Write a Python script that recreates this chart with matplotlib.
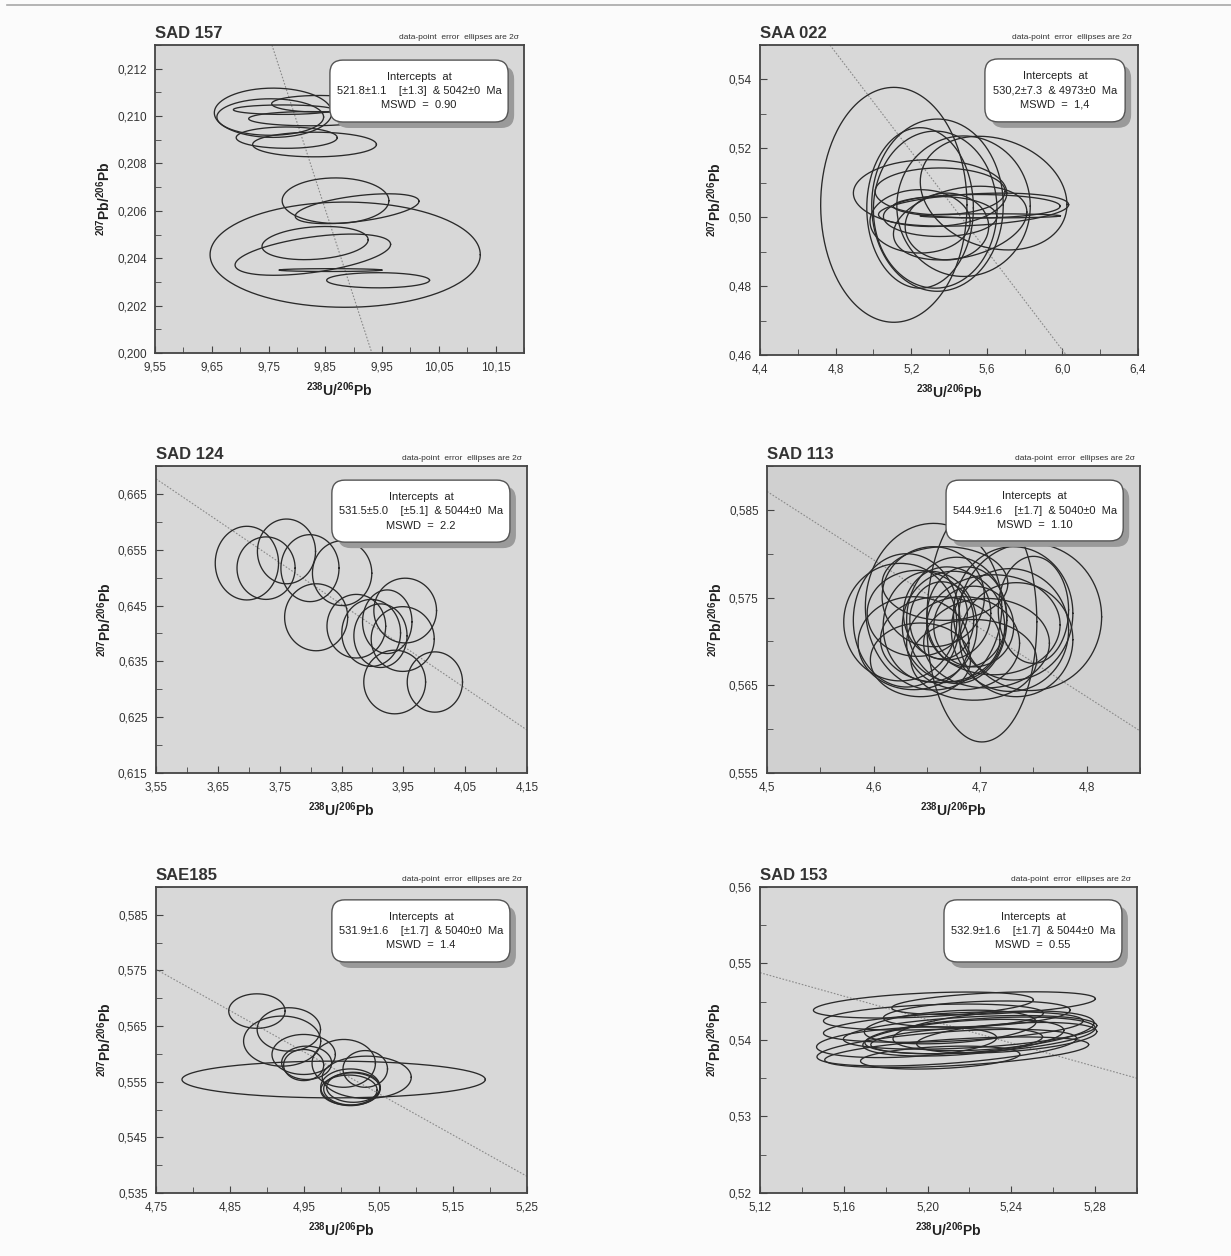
import numpy as np
import matplotlib.pyplot as plt
from matplotlib.patches import FancyBboxPatch
from matplotlib.lines import Line2D
from matplotlib.ticker import FuncFormatter

plt.rcParams['font.family'] = ['Liberation Sans', 'DejaVu Sans']
plt.rcParams['mathtext.fontset'] = 'custom'
plt.rcParams['mathtext.rm'] = 'Liberation Sans'
plt.rcParams['mathtext.bf'] = 'Liberation Sans:bold'

# ellipses: (centro x, centro y, semi-eje x, semi-eje y, rho)
sad157 = [
    (9.758, 0.21014, 0.1035, 0.00104, 0.0),
    (9.839, 0.21052, 0.0835, 0.00035, 0.0),
    (9.776, 0.21027, 0.088, 0.00020, 0.0),
    (9.822, 0.20989, 0.107, 0.00030, 0.0),
    (9.753, 0.20996, 0.094, 0.00077, 0.0),
    (9.782, 0.20909, 0.089, 0.00045, 0.0),
    (9.831, 0.20880, 0.109, 0.00052, 0.0),
    (9.868, 0.20643, 0.094, 0.00096, 0.0),
    (9.906, 0.20609, 0.109, 0.00063, 0.5),
    (9.885, 0.20415, 0.238, 0.00222, 0.0),
    (9.832, 0.20464, 0.0935, 0.00070, 0.2),
    (9.828, 0.20415, 0.137, 0.00087, 0.5),
    (9.859, 0.20350, 0.0906, 0.00006, 0.0),
    (9.943, 0.20307, 0.0906, 0.00032, 0.0),
]
saa022 = [
    (5.108, 0.5036, 0.387, 0.0341, 0.0),
    (5.339, 0.5035, 0.348, 0.0250, 0.0),
    (5.327, 0.5022, 0.327, 0.0228, 0.0),
    (5.247, 0.5027, 0.282, 0.0233, 0.0),
    (5.477, 0.5032, 0.353, 0.0204, 0.0),
    (5.636, 0.5070, 0.388, 0.0165, -0.2),
    (5.300, 0.5070, 0.406, 0.0097, 0.0),
    (5.353, 0.5075, 0.344, 0.0068, 0.0),
    (5.530, 0.5022, 0.503, 0.0048, 0.3),
    (5.547, 0.5032, 0.441, 0.0034, 0.0),
    (5.618, 0.5004, 0.371, 0.0006, 0.0),
    (5.353, 0.5002, 0.300, 0.0058, 0.0),
    (5.389, 0.4973, 0.221, 0.0097, 0.0),
    (5.459, 0.4983, 0.353, 0.0107, 0.3),
    (5.247, 0.4988, 0.265, 0.0092, 0.0),
]
sad124 = [
    (3.697, 0.6526, 0.0512, 0.0066, 0.0),
    (3.728, 0.6517, 0.0470, 0.0056, 0.0),
    (3.761, 0.6547, 0.0470, 0.0058, 0.0),
    (3.799, 0.6517, 0.0470, 0.0060, 0.0),
    (3.851, 0.6508, 0.0480, 0.0058, 0.0),
    (3.809, 0.6429, 0.0510, 0.0060, 0.0),
    (3.874, 0.6413, 0.0475, 0.0057, 0.0),
    (3.898, 0.6401, 0.0475, 0.0060, 0.0),
    (3.924, 0.6421, 0.0400, 0.0057, 0.0),
    (3.913, 0.6396, 0.0430, 0.0057, 0.0),
    (3.953, 0.6441, 0.0507, 0.0058, 0.0),
    (3.949, 0.6390, 0.0510, 0.0058, 0.0),
    (3.936, 0.6313, 0.0500, 0.0057, 0.0),
    (4.001, 0.6313, 0.0447, 0.0054, 0.0),
]
sad113 = [
    (4.7016, 0.57224, 0.0516, 0.0137, 0.0),
    (4.6563, 0.57396, 0.0640, 0.0095, 0.0),
    (4.625, 0.5722, 0.053, 0.0067, 0.0),
    (4.631, 0.5724, 0.050, 0.0076, 0.0),
    (4.641, 0.5732, 0.047, 0.0049, 0.0),
    (4.656, 0.5751, 0.048, 0.0057, 0.0),
    (4.667, 0.5766, 0.059, 0.0042, 0.0),
    (4.747, 0.5728, 0.067, 0.0084, 0.0),
    (4.731, 0.5732, 0.056, 0.0076, 0.0),
    (4.728, 0.5713, 0.055, 0.0070, 0.0),
    (4.7125, 0.5719, 0.0625, 0.0057, 0.0),
    (4.675, 0.5717, 0.048, 0.0063, 0.0),
    (4.6625, 0.5702, 0.056, 0.0049, 0.0),
    (4.6375, 0.5698, 0.052, 0.0053, 0.0),
    (4.684, 0.5698, 0.053, 0.0053, 0.0),
    (4.669, 0.5732, 0.041, 0.0053, 0.0),
    (4.6875, 0.5728, 0.0375, 0.0057, 0.0),
    (4.678, 0.5724, 0.047, 0.0072, 0.0),
    (4.653, 0.5717, 0.044, 0.0063, 0.0),
    (4.706, 0.5698, 0.059, 0.0051, 0.0),
    (4.644, 0.5679, 0.047, 0.0042, 0.0),
    (4.694, 0.5679, 0.059, 0.0046, 0.0),
    (4.734, 0.5702, 0.053, 0.0065, 0.0),
    (4.750, 0.5736, 0.033, 0.0061, 0.0),
    (4.664, 0.5724, 0.030, 0.0044, 0.0),
    (4.694, 0.5717, 0.0375, 0.0046, 0.0),
]
sae185 = [
    (4.886, 0.5677, 0.0380, 0.0031, 0.0),
    (4.929, 0.5644, 0.0427, 0.0039, 0.0),
    (4.920, 0.5623, 0.0520, 0.0045, 0.0),
    (4.949, 0.5599, 0.0427, 0.0036, 0.0),
    (4.949, 0.5580, 0.0270, 0.0028, 0.0),
    (4.953, 0.5584, 0.0337, 0.0030, 0.0),
    (5.003, 0.5583, 0.0427, 0.0043, 0.0),
    (4.9894, 0.5554, 0.2044, 0.0033, 0.0),
    (5.032, 0.5573, 0.0300, 0.0033, 0.0),
    (5.034, 0.5558, 0.0600, 0.0038, 0.0),
    (5.012, 0.5540, 0.0400, 0.0033, 0.0),
    (5.014, 0.5537, 0.0380, 0.0029, 0.0),
    (5.010, 0.5535, 0.0380, 0.0027, 0.0),
    (5.016, 0.5540, 0.0360, 0.0027, 0.0),
]
sad153 = [
    (5.198, 0.54457, 0.0525, 0.0017, 0.4),
    (5.2315, 0.5448, 0.0486, 0.0015, 0.4),
    (5.2028, 0.5430, 0.0525, 0.0017, 0.3),
    (5.2123, 0.5417, 0.0620, 0.0020, 0.4),
    (5.2203, 0.5410, 0.0605, 0.0022, 0.4),
    (5.2092, 0.5390, 0.0620, 0.0024, 0.5),
    (5.2139, 0.5384, 0.0630, 0.0020, 0.5),
    (5.2251, 0.5406, 0.0550, 0.0024, 0.4),
    (5.2108, 0.5417, 0.0410, 0.0022, 0.3),
    (5.2171, 0.5403, 0.0480, 0.0024, 0.4),
    (5.2139, 0.5399, 0.0410, 0.0017, 0.3),
    (5.2315, 0.5412, 0.0480, 0.0026, 0.4),
    (5.2378, 0.5403, 0.0430, 0.0020, 0.4),
    (5.2060, 0.5377, 0.0380, 0.0015, 0.3),
    (5.1900, 0.5397, 0.0430, 0.0020, 0.3),
    (5.2235, 0.5434, 0.0446, 0.0017, 0.3),
]

nombres = ["SAD 157", "SAA 022", "SAD 124", "SAD 113", "SAE185", "SAD 153"]
interceptos = [
    "521.8±1.1    [±1.3]  & 5042±0  Ma",
    "530,2±7.3  & 4973±0  Ma",
    "531.5±5.0    [±5.1]  & 5044±0  Ma",
    "544.9±1.6    [±1.7]  & 5040±0  Ma",
    "531.9±1.6    [±1.7]  & 5040±0  Ma",
    "532.9±1.6    [±1.7]  & 5044±0  Ma",
]
mswd = ["0.90", "1,4", "2.2", "1.10", "1.4", "0.55"]
datos = [sad157, saa022, sad124, sad113, sae185, sad153]

x_lims = [(9.55, 10.20), (4.4, 6.4), (3.55, 4.15), (4.5, 4.85), (4.75, 5.25), (5.12, 5.30)]
y_lims = [(0.200, 0.213), (0.46, 0.55), (0.615, 0.670), (0.555, 0.590), (0.535, 0.590), (0.52, 0.56)]
x_paso = [0.1, 0.4, 0.1, 0.1, 0.1, 0.04]
y_paso = [0.002, 0.02, 0.01, 0.01, 0.01, 0.01]
x_dec = [2, 1, 2, 1, 2, 2]
y_dec = [3, 2, 3, 3, 3, 2]
x_max_tick = [10.15, 6.4, 4.15, 4.8, 5.25, 5.28]
y_max_tick = [0.212, 0.54, 0.665, 0.585, 0.585, 0.56]

# linea de discordia (dos extremos)
discordia = [
    ((9.756, 0.213), (9.932, 0.200)),
    ((4.77, 0.55), (6.02, 0.46)),
    ((3.55, 0.6677), (4.15, 0.6227)),
    ((4.5, 0.5871), (4.85, 0.5598)),
    ((4.75, 0.5752), (5.25, 0.538)),
    ((5.12, 0.5488), (5.30, 0.535)),
]

# posiciones en pixeles: izq, arriba, der, abajo
cajas_px = [(155, 45, 524, 353), (760, 45, 1138, 355),
            (156, 466, 527, 773), (767, 466, 1140, 773),
            (156, 887, 527, 1193), (760, 887, 1137, 1193)]
leyenda_ax = [(0.474, 0.957, 0.75, 0.951), (0.595, 0.966, 0.752, 0.955),
              (0.474, 0.954, 0.752, 0.954), (0.480, 0.955, 0.756, 0.954),
              (0.474, 0.954, 0.755, 0.958), (0.488, 0.960, 0.755, 0.958)]

W, H = 1231, 1256
fig = plt.figure(figsize=(W / 100, H / 100), dpi=100, facecolor='#fbfbfb')
fig.add_artist(Line2D([7 / W, 1], [1 - 5 / H, 1 - 5 / H], color='#a8a8a8', lw=1.2))

t = np.linspace(0, 2 * np.pi, 300)

for i in range(6):
    l, tp, r, b = cajas_px[i]
    ax = fig.add_axes([l / W, 1 - b / H, (r - l) / W, (b - tp) / H])
    ax.set_facecolor('#d0d0d0' if i == 3 else '#d8d8d8')
    for sp in ax.spines.values():
        sp.set_color('#444444')
        sp.set_linewidth(1.3)

    for cx, cy, sx, sy, rho in datos[i]:
        x = cx + sx * np.cos(t)
        y = cy + sy * (rho * np.cos(t) + np.sqrt(1 - rho ** 2) * np.sin(t))
        ax.plot(x, y, color='#2a2a2a', lw=0.95, zorder=3)

    (x0, y0), (x1, y1) = discordia[i]
    ax.plot([x0, x1], [y0, y1], color='#8a8a8a', lw=0.8, ls=(0, (1.5, 1.5)), zorder=2)

    ax.set_xlim(*x_lims[i])
    ax.set_ylim(*y_lims[i])
    xt = np.arange(x_lims[i][0], x_max_tick[i] + 1e-9, x_paso[i])
    yt = np.arange(y_lims[i][0], y_max_tick[i] + 1e-9, y_paso[i])
    ax.set_xticks(xt)
    ax.set_yticks(yt)
    ax.set_xticks(np.arange(x_lims[i][0], x_lims[i][1] + 1e-9, x_paso[i] / 2), minor=True)
    ax.set_yticks(np.arange(y_lims[i][0], y_lims[i][1] + 1e-9, y_paso[i] / 2), minor=True)
    dx, dy = x_dec[i], y_dec[i]
    ax.xaxis.set_major_formatter(FuncFormatter(lambda v, p, d=dx: f"{v:.{d}f}".replace('.', ',')))
    ax.yaxis.set_major_formatter(FuncFormatter(lambda v, p, d=dy: f"{v:.{d}f}".replace('.', ',')))
    ax.tick_params(which='both', direction='in', color='#444444', labelsize=8.5,
                   labelcolor='#333333', pad=6)
    ax.tick_params(which='major', length=5)
    ax.tick_params(which='minor', length=4)

    ax.set_xlabel(r'$\mathbf{{}^{238}U/{}^{206}Pb}$', fontsize=10, color='#222222', labelpad=5)
    ax.set_ylabel(r'$\mathbf{{}^{207}Pb/{}^{206}Pb}$', fontsize=10, color='#222222', labelpad=3)

    ax.text(0.0, 1.012, nombres[i], transform=ax.transAxes, fontsize=12,
            fontweight='bold', color='#333333', ha='left', va='bottom')
    ax.text(0.985, 1.012, "data-point  error  ellipses are 2σ", transform=ax.transAxes,
            fontsize=6, color='#333333', ha='right', va='bottom')

    # caja de interceptos con sombra
    bx0, bx1, by0, by1 = leyenda_ax[i]
    asp = (r - l) / (b - tp)
    ox, oy = 6 / (r - l), 6 / (b - tp)
    sombra = FancyBboxPatch((bx0 + ox, by0 - oy), bx1 - bx0, by1 - by0,
                            boxstyle="round,pad=0,rounding_size=0.035",
                            mutation_aspect=asp, transform=ax.transAxes,
                            fc='#9a9a9a', ec='none', zorder=5)
    caja = FancyBboxPatch((bx0, by0), bx1 - bx0, by1 - by0,
                          boxstyle="round,pad=0,rounding_size=0.035",
                          mutation_aspect=asp, transform=ax.transAxes,
                          fc='white', ec='#555555', lw=1.0, zorder=6)
    ax.add_patch(sombra)
    ax.add_patch(caja)
    ax.text((bx0 + bx1) / 2, (by0 + by1) / 2,
            "Intercepts  at\n" + interceptos[i] + "\nMSWD  =  " + mswd[i],
            transform=ax.transAxes, ha='center', va='center', fontsize=8,
            color='#222222', linespacing=1.55, zorder=7)

fig.savefig("out.png", dpi=100, facecolor=fig.get_facecolor())
